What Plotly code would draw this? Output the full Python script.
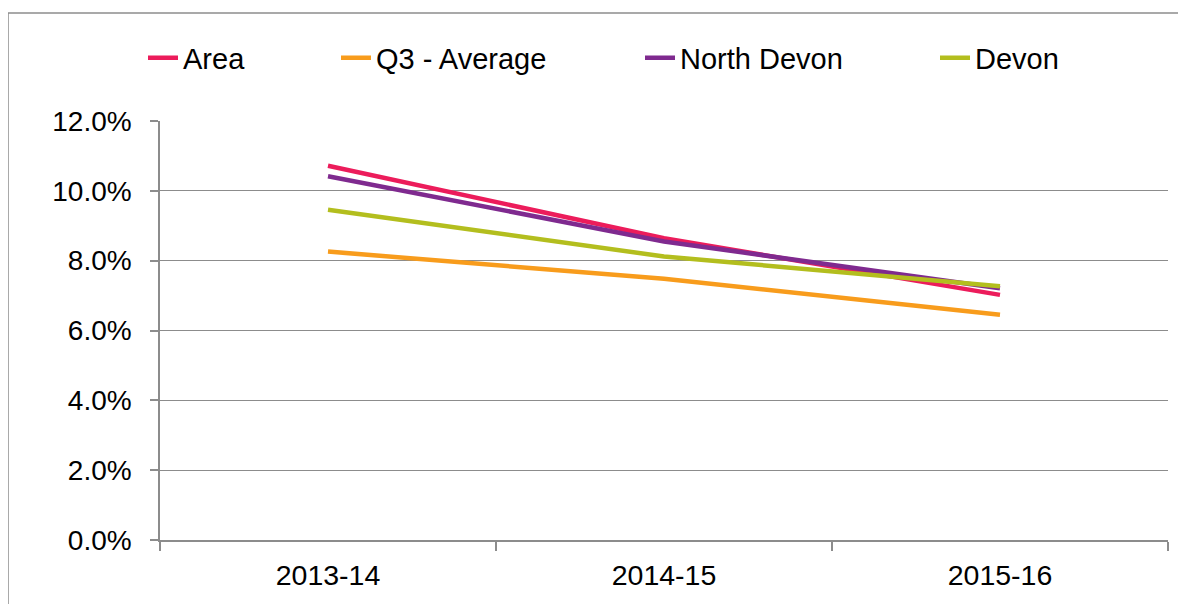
import plotly.graph_objects as go

categories = ["2013-14", "2014-15", "2015-16"]
area = [10.72, 8.64, 7.02]
q3_average = [8.26, 7.48, 6.45]
north_devon = [10.42, 8.55, 7.21]
devon = [9.46, 8.12, 7.27]

series = [
    ("Area", area, "#EC1C5B"),
    ("Q3 - Average", q3_average, "#F89C1C"),
    ("North Devon", north_devon, "#7F2A8F"),
    ("Devon", devon, "#B3BE1E"),
]

# the page body has an 8px margin, so the figure is drawn 8px in from the window edge
OFF = 8
W, H = 1186 - OFF, 604 - OFF
L, R, T, B = 160 - OFF, 1186 - 1168, 121 - OFF, 604 - 540
pw = W - L - R
ph = H - T - B

def px_x(x):
    return (x - OFF - L) / pw

def px_y(y):
    return (H - B - (y - OFF)) / ph

# legend text start positions (window px) in reference
legend_text_x = [183, 376, 680, 975]

fig = go.Figure()
layout_legends = {}
for i, (name, vals, col) in enumerate(series):
    key = "legend" if i == 0 else f"legend{i+1}"
    fig.add_trace(go.Scatter(
        x=categories, y=vals, name=name, mode="lines",
        line=dict(color=col, width=4.5),
        legend=key,
    ))
    layout_legends[key] = dict(
        x=px_x(legend_text_x[i] - 40), y=px_y(58),
        xanchor="left", yanchor="middle",
        orientation="h", bgcolor="rgba(0,0,0,0)",
        font=dict(family="Arial, Liberation Sans", size=29, color="#000000"),
        itemwidth=30, tracegroupgap=0,
    )

grid = "#8c8c8c"
fig.update_layout(
    width=W, height=H,
    margin=dict(l=L, r=R, t=T, b=B),
    paper_bgcolor="white", plot_bgcolor="white",
    font=dict(family="Arial, Liberation Sans", size=28, color="#000000"),
    showlegend=True,
    **layout_legends,
)
fig.update_xaxes(
    type="category", range=[-0.5, 2.5],
    showgrid=False, showline=True, linecolor=grid, linewidth=1.5,
    ticks="outside", tickson="boundaries", ticklen=9, tickcolor=grid, tickwidth=1.5,
    tickfont=dict(size=28.5), ticklabelstandoff=9,
)
fig.update_yaxes(
    range=[0, 12], dtick=2, tickformat=".1f", ticksuffix="%",
    showgrid=True, gridcolor=grid, gridwidth=1.2,
    showline=True, linecolor=grid, linewidth=1.5,
    ticks="outside", ticklen=8, tickcolor=grid, tickwidth=1.5,
    tickfont=dict(size=28), zeroline=False, ticklabelstandoff=13,
)
# outer chart border (partially visible)
fig.add_shape(type="line", xref="paper", yref="paper",
              x0=px_x(8), x1=px_x(1200), y0=px_y(13), y1=px_y(13),
              line=dict(color=grid, width=1.5))
fig.add_shape(type="line", xref="paper", yref="paper",
              x0=px_x(8), x1=px_x(8), y0=px_y(13), y1=px_y(620),
              line=dict(color=grid, width=1.5))

fig.write_html("out.html")
